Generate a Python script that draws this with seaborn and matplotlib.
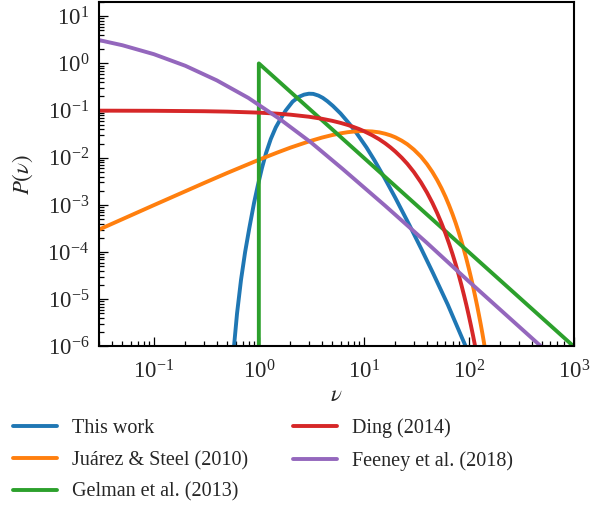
import numpy as np
import pandas as pd
import seaborn as sns
import matplotlib
matplotlib.use("Agg")
import matplotlib.pyplot as plt
from matplotlib.ticker import LogLocator, NullFormatter

# values
this_work_nu = [0.55, 0.58, 0.62, 0.676, 0.74, 0.811, 0.9, 0.975, 1.07, 1.17, 1.3, 1.45,
                1.6, 1.8, 2.1, 2.4, 2.7, 3.0, 3.3, 3.7, 4.07, 4.5, 5.07, 6.0, 7.32,
                8.5, 10.6, 12.6, 15.85, 19.95, 27.4, 35.5, 45.7, 63.1, 91.8, 100]
this_work_p = [5e-7, 1.0e-6, 5.0e-6, 2.55e-5, 1.0e-4, 3.2e-4, 1.1e-3, 2.5e-3, 6.0e-3,
               1.25e-2, 2.5e-2, 4.4e-2, 6.5e-2, 0.10, 0.155, 0.195, 0.218, 0.228,
               0.226, 0.208, 0.186, 0.158, 0.126, 8.71e-2, 5.19e-2, 3.37e-2, 1.66e-2,
               8.9e-3, 3.65e-3, 1.42e-3, 3.62e-4, 1.14e-4, 3.57e-5, 7.7e-6, 1.1e-6,
               7.0e-7]

juarez_nu = [0.03, 0.1, 0.3, 0.5, 1, 1.5, 2, 3, 4, 5, 6, 7, 8, 9, 10, 12, 14, 16, 18,
             20, 23, 26, 30, 35, 40, 45, 50, 55, 60, 65, 70, 75, 80, 85, 90, 95, 100,
             105, 110, 115, 120, 125, 130, 135, 140, 145, 150]
juarez_p = [3.0e-4, 9.9e-4, 2.91e-3, 4.76e-3, 9.05e-3, 1.29e-2, 1.64e-2, 2.22e-2,
            2.68e-2, 3.03e-2, 3.29e-2, 3.48e-2, 3.59e-2, 3.66e-2, 3.68e-2, 3.61e-2,
            3.46e-2, 3.23e-2, 2.98e-2, 2.71e-2, 2.30e-2, 1.93e-2, 1.49e-2, 1.06e-2,
            7.33e-3, 5.0e-3, 3.37e-3, 2.25e-3, 1.49e-3, 9.75e-4, 6.38e-4, 4.15e-4,
            2.68e-4, 1.73e-4, 1.11e-4, 7.12e-5, 4.54e-5, 2.89e-5, 1.84e-5, 1.16e-5,
            7.4e-6, 4.66e-6, 2.95e-6, 1.86e-6, 1.16e-6, 7.3e-7, 4.6e-7]

gelman_nu = [1.0, 1.0, 1000]
gelman_p = [1e-7, 1.0, 1e-6]

ding_nu = [0.03, 0.1, 0.3, 0.5, 1, 1.5, 2, 3, 4, 5, 6, 7, 8, 9, 10, 12, 14, 16, 18,
           20, 23, 26, 30, 35, 40, 45, 50, 55, 60, 65, 70, 75, 80, 85, 90, 95, 100,
           105, 110, 115, 120]
ding_p = [9.97e-2, 9.9e-2, 9.7e-2, 9.51e-2, 9.05e-2, 8.61e-2, 8.19e-2, 7.41e-2,
          6.70e-2, 6.07e-2, 5.49e-2, 4.97e-2, 4.49e-2, 4.07e-2, 3.68e-2, 3.01e-2,
          2.47e-2, 2.02e-2, 1.65e-2, 1.35e-2, 1.00e-2, 7.43e-3, 4.98e-3, 3.02e-3,
          1.83e-3, 1.11e-3, 6.74e-4, 4.09e-4, 2.48e-4, 1.50e-4, 9.12e-5, 5.53e-5,
          3.35e-5, 2.03e-5, 1.23e-5, 7.49e-6, 4.54e-6, 2.75e-6, 1.67e-6, 1.01e-6,
          6.1e-7]

feeney_nu = [0.0293, 0.0501, 0.1, 0.1995, 0.398, 0.794, 1.585, 3.16, 6.31, 15.85,
             39.8, 100, 251, 631]
feeney_p = [3.16, 2.43, 1.57, 0.891, 0.437, 0.186, 6.61e-2, 2.09e-2, 5.75e-3, 9.77e-4,
            1.58e-4, 2.40e-5, 3.8e-6, 6.0e-7]

labels = ["This work", "Juárez & Steel (2010)", "Gelman et al. (2013)",
          "Ding (2014)", "Feeney et al. (2018)"]
colors = ["#1f77b4", "#ff7f0e", "#2ca02c", "#d62728", "#9467bd"]

series = [(this_work_nu, this_work_p), (juarez_nu, juarez_p), (gelman_nu, gelman_p),
          (ding_nu, ding_p), (feeney_nu, feeney_p)]
frames = []
for lab, (nu, p) in zip(labels, series):
    frames.append(pd.DataFrame({"nu": nu, "p": p, "prior": lab}))
df = pd.concat(frames, ignore_index=True)

sns.set_style("ticks")
plt.rcParams["font.family"] = ["Liberation Serif", "DejaVu Serif"]
plt.rcParams["mathtext.fontset"] = "stix"
fs = 14.5
tfs = 16.5

fig = plt.figure(figsize=(6.11, 5.14), dpi=100)
ax = fig.add_axes([0.162, 0.326, 0.777, 0.670])

sns.lineplot(data=df, x="nu", y="p", hue="prior", hue_order=labels,
             palette=dict(zip(labels, colors)), estimator=None, sort=False,
             linewidth=2.8, ax=ax, legend=False)

ax.set_xscale("log")
ax.set_yscale("log")
ax.set_xlim(0.03, 1000)
ax.set_ylim(1e-6, 20)
ax.set_xlabel(r"$\nu$", fontsize=tfs, labelpad=1)
ax.set_ylabel(r"$P(\nu)$", fontsize=tfs, labelpad=9)

ax.xaxis.set_major_locator(LogLocator(base=10, numticks=20))
ax.yaxis.set_major_locator(LogLocator(base=10, numticks=20))
ax.xaxis.set_minor_locator(LogLocator(base=10, subs=np.arange(2, 10), numticks=20))
ax.yaxis.set_minor_locator(LogLocator(base=10, subs=np.arange(2, 10), numticks=20))
ax.xaxis.set_minor_formatter(NullFormatter())
ax.yaxis.set_minor_formatter(NullFormatter())
ax.tick_params(which="both", direction="in", top=False, right=False,
               labelsize=tfs, width=0.9, color="black", pad=7)
ax.tick_params(axis="x", which="both", pad=10)
ax.tick_params(which="major", length=6.5)
ax.tick_params(which="minor", length=3.6)
for sp in ax.spines.values():
    sp.set_linewidth(1.5)
    sp.set_color("black")

handles = [plt.Line2D([], [], color=c, linewidth=2.8) for c in colors]
fig.legend(handles, labels, loc="upper left", bbox_to_anchor=(0.008, 0.201),
           ncol=2, frameon=False, fontsize=fs, handlelength=2.2,
           handletextpad=0.75, labelspacing=0.62, columnspacing=2.2,
           borderaxespad=0)

fig.savefig("out.png", dpi=100)
